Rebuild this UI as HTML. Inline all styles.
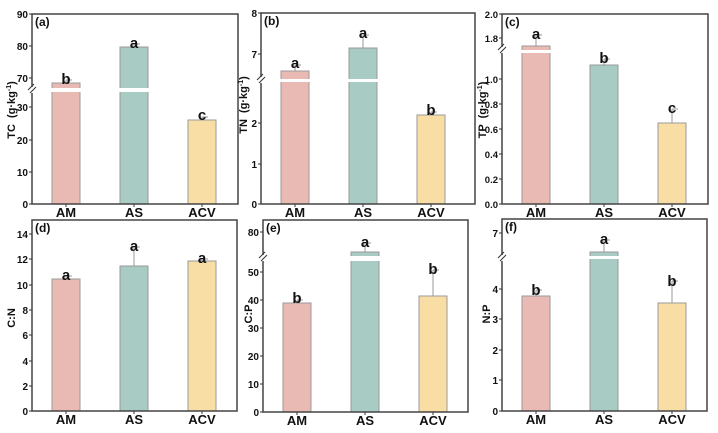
<!DOCTYPE html>
<html><head><meta charset="utf-8"><style>
html,body{margin:0;padding:0;background:#fff;width:718px;height:433px;overflow:hidden}
text{font-family:"Liberation Sans",Arial,sans-serif;font-weight:bold;fill:#111}
</style></head><body>
<svg id="s" width="718" height="433" xmlns="http://www.w3.org/2000/svg"></svg>
<script>
const C=['#e9bab3','#a8cbc3','#f8dea4'];
const P=[
{x0:32,x1:238,y0:14,y1:204,lab:'(a)',yl:'TC',unit:true,ylx:15,cy:110,fs:10,brk:90,
 ticks:[[204,'0'],[172,'10'],[140,'20'],[107,'30'],[78,'70'],[46,'80'],[14,'90']],
 bars:[[83,[88,92],80,'b',79],[47,[88,92],44,'a',43],[120,null,117,'c',115]]},
{x0:261,x1:475,y0:13,y1:204,lab:'(b)',yl:'TN',unit:true,ylx:247,cy:105,fs:10,brk:80,
 ticks:[[204,'0'],[164,'1'],[123,'2'],[54,'7'],[13,'8']],
 bars:[[71,[79,82],65,'a',63],[48,[79,82],35,'a',33],[115,null,112,'b',110]]},
{x0:502,x1:708,y0:14,y1:204,lab:'(c)',yl:'TP',unit:true,ylx:486,cy:110,fs:9.5,brk:50,
 ticks:[[204,'0.0'],[179,'0.2'],[154,'0.4'],[129,'0.6'],[104,'0.8'],[79,'1.0'],[38,'1.8'],[14,'2.0']],
 bars:[[46,[50,53],35,'a',34],[65,null,59,'b',58],[123,null,109,'c',108]]},
{x0:32,x1:237,y0:220,y1:411,lab:'(d)',yl:'C:N',ylx:15,cy:318,fs:10,brk:null,
 ticks:[[411,'0'],[386,'2'],[361,'4'],[335,'6'],[310,'8'],[285,'10'],[259,'12'],[234,'14']],
 bars:[[279,null,276,'a',275],[266,null,247,'a',246],[261,null,259,'a',258]]},
{x0:263,x1:468,y0:220,y1:412,lab:'(e)',yl:'C:P',ylx:252,cy:314,fs:10,brk:258,
 ticks:[[412,'0'],[384,'10'],[356,'20'],[328,'30'],[300,'40'],[272,'50'],[232,'80']],
 bars:[[303,null,300,'b',298],[252,[256,261],243,'a',242],[296,null,270,'b',269]]},
{x0:502,x1:707,y0:219,y1:411,lab:'(f)',yl:'N:P',ylx:490,cy:314,fs:10,brk:258,
 ticks:[[411,'0'],[380,'1'],[350,'2'],[319,'3'],[289,'4'],[233,'7']],
 bars:[[296,null,290,'b',290],[252,[256,259],240,'a',239],[303,null,281,'b',281]]}
];
let h='';
const offs=[20,88,156],names=['AM','AS','ACV'];
for(const p of P){
 p.bars.forEach((b,i)=>{
  const x=p.x0+offs[i],w=28,cx=x+w/2;
  h+=`<line x1="${cx}" y1="${b[2]}" x2="${cx}" y2="${b[0]}" stroke="#999" stroke-width="1"/>`;
  h+=`<line x1="${cx}" y1="${b[2]}" x2="${cx+6}" y2="${b[2]}" stroke="#999" stroke-width="1"/>`;
  h+=`<rect x="${x}" y="${b[0]}" width="${w}" height="${p.y1-b[0]}" fill="${C[i]}" stroke="#9a9a9a" stroke-width="1"/>`;
  if(b[1])h+=`<rect x="${x-1}" y="${b[1][0]}" width="${w+2}" height="${b[1][1]-b[1][0]}" fill="#fff"/>`;
  h+=`<text x="${cx}" y="${b[4]+5}" font-size="15" text-anchor="middle">${b[3]}</text>`;
  h+=`<text x="${cx}" y="${p.y1+13}" font-size="13" text-anchor="middle">${names[i]}</text>`;
  h+=`<line x1="${cx}" y1="${p.y1}" x2="${cx}" y2="${p.y1+3}" stroke="#333"/>`;
 });
 h+=`<rect x="${p.x0}" y="${p.y0}" width="${p.x1-p.x0}" height="${p.y1-p.y0}" fill="none" stroke="#444" stroke-width="1.5"/>`;
 for(const t of p.ticks){
  h+=`<line x1="${p.x0-3}" y1="${t[0]}" x2="${p.x0}" y2="${t[0]}" stroke="#333"/>`;
  h+=`<text x="${p.x0-4}" y="${t[0]+4}" font-size="${p.fs}" text-anchor="end">${t[1]}</text>`;
 }
 if(p.brk){
  h+=`<rect x="${p.x0-2}" y="${p.brk-3}" width="4" height="6" fill="#fff"/>`;
  h+=`<line x1="${p.x0-4}" y1="${p.brk}" x2="${p.x0+2}" y2="${p.brk-6}" stroke="#333"/>`;
  h+=`<line x1="${p.x0-2}" y1="${p.brk+3}" x2="${p.x0+4}" y2="${p.brk-3}" stroke="#333"/>`;
 }
 h+=`<text x="${p.x0+3}" y="${p.y0+12}" font-size="12">${p.lab}</text>`;
 const lbl=p.unit?`${p.yl}  (g·kg<tspan dy="-4" font-size="7">-1</tspan><tspan dy="4">)</tspan>`:p.yl;
 h+=`<text transform="translate(${p.ylx},${p.cy}) rotate(-90)" font-size="11" text-anchor="middle" xml:space="preserve">${lbl}</text>`;
}
document.getElementById('s').innerHTML=h;
</script>
</body></html>
